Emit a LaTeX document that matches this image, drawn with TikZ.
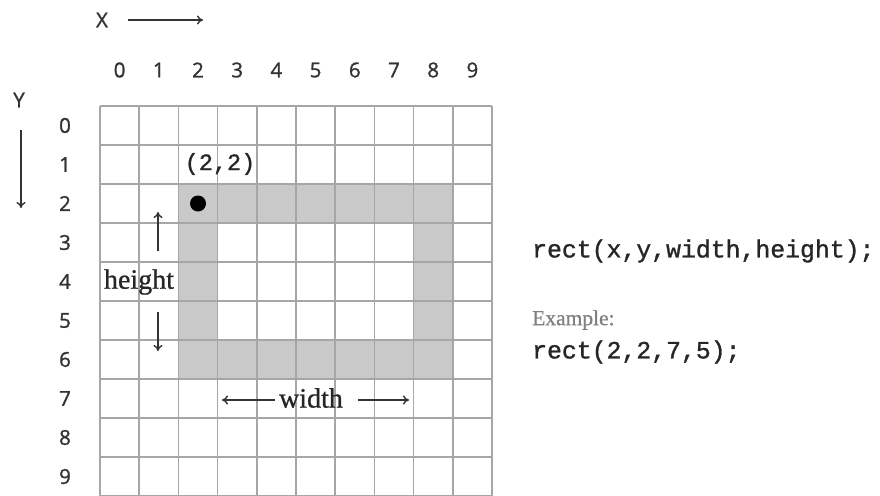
\documentclass[tikz,border=0pt]{standalone}
\usepackage{fontspec}
\setmainfont{Liberation Serif}[FakeBold=0.8]
\newfontfamily\numfont{Open Sans}[FakeBold=1.2]
\newfontfamily\codefont{Liberation Mono}[FakeBold=1.2]
\usetikzlibrary{arrows.meta}

\begin{document}
\begin{tikzpicture}[x=1pt,y=-1pt,
  gridline/.style={draw=black!35,line width=1.5pt},
  band/.style={fill=black!21},
  axisnum/.style={inner sep=0pt,font=\numfont\fontsize{20.5}{24}\selectfont,text=black!80},
  codetxt/.style={inner sep=0pt,anchor=west,font=\codefont\fontsize{24.8}{28}\selectfont,text=black!85},
  dimtxt/.style={inner sep=0pt,font=\fontsize{28}{32}\selectfont,text=black!85},
  thinarrow/.style={draw=black!80,line width=1.4pt,-{To[length=6pt,width=9pt]}}]
\useasboundingbox (0,0) rectangle (880,495);
\clip (0,0) rectangle (880,495);

% the rectangle rect(2,2,7,5): a one-cell grey band
\fill[band] (178.4,184) rectangle (452.8,379);
\fill[white] (217.6,223) rectangle (413.6,340);

% 10 x 10 pixel grid
\foreach \i in {0,...,10}
  \draw[gridline] ({100+39.2*\i},106) -- ({100+39.2*\i},510);
\foreach \j in {0,...,10}
  \draw[gridline] (100,{106+39*\j}) -- (492,{106+39*\j});

% axis numbers
\foreach \i in {0,...,9} {
  \node[axisnum] (col\i) at ({119.6+39.2*\i},70) {\i};
  \node[axisnum] (row\i) at (65,{125.5+39*\i}) {\i};
}

% axis names and directions
\node[axisnum] (xlabel) at (102,20) {X};
\coordinate (xa) at (128,20);
\coordinate (xb) at (203,20);
\draw[thinarrow] (xa) -- (xb);
\node[axisnum] (ylabel) at (19,100) {Y};
\coordinate (ya) at (21,130);
\coordinate (yb) at (21,208);
\draw[thinarrow] (ya) -- (yb);

% origin point of the rectangle
\node[circle,fill=black,inner sep=0pt,minimum size=16pt] (origin) at (198,203.5) {};
\node[inner sep=0pt,font=\codefont\fontsize{23.5}{26}\selectfont,text=black!85] (originlabel) at (220,164) {(2,2)};

% height
\node[dimtxt] (height) at (139,282) {height};
\coordinate (hup0) at (158,251);
\coordinate (hup1) at (158,212);
\draw[thinarrow] (hup0) -- (hup1);
\coordinate (hdn0) at (158,312);
\coordinate (hdn1) at (158,351);
\draw[thinarrow] (hdn0) -- (hdn1);

% width
\node[dimtxt] (width) at (311,398) {width};
\coordinate (wl0) at (275,400);
\coordinate (wl1) at (222,400);
\draw[thinarrow] (wl0) -- (wl1);
\coordinate (wr0) at (358,400);
\coordinate (wr1) at (409,400);
\draw[thinarrow] (wr0) -- (wr1);

% function signature and example
\node[codetxt] (signature) at (532,251) {rect(x,y,width,height);};
\node[inner sep=0pt,anchor=west,font=\fontsize{21.5}{24}\selectfont,text=black!50] (example) at (532,320) {Example:};
\node[codetxt] (call) at (532,352) {rect(2,2,7,5);};
\end{tikzpicture}
\end{document}
